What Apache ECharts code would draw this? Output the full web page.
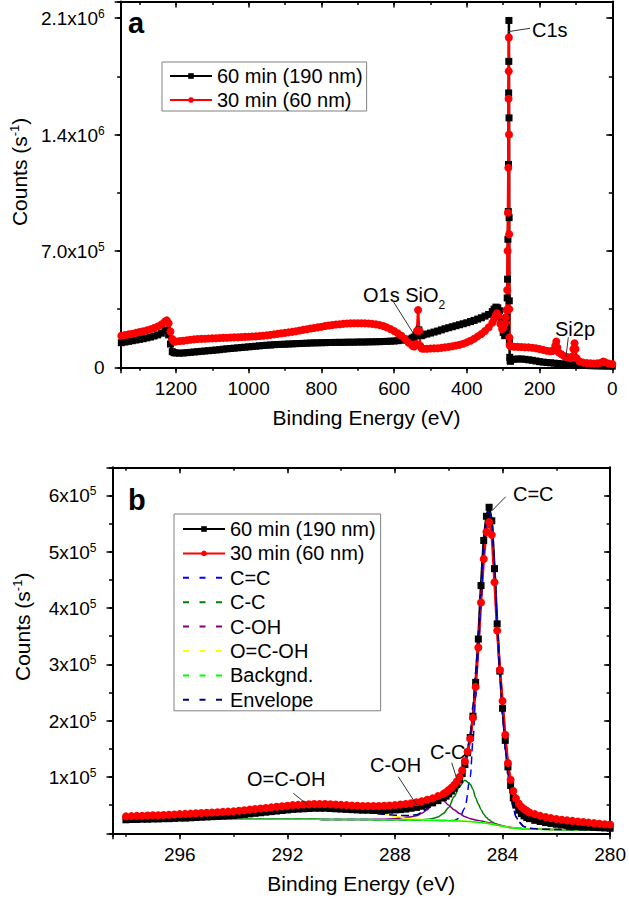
<!DOCTYPE html>
<html>
<head>
<meta charset="utf-8">
<title>XPS survey and C1s spectra</title>
<script src="https://cdn.jsdelivr.net/npm/echarts@6/dist/echarts.min.js"></script>
<style>
  html, body { margin: 0; padding: 0; background: #fff; }
  #chart { width: 629px; height: 902px; }
</style>
</head>
<body>
<div id="chart"></div>
<script>
// ===== panel a: survey scan, [binding energy (eV), counts in thousands] =====
const survey60 = [[1350,148],[1340,152],[1330,156],[1320,160],[1310,164],[1300,168],[1290,172],[1280,177],[1270,182],[1260,188],[1250,195],[1240,205],[1230,220],[1225,225],[1220,195],[1215,140],[1210,94],[1205,88],[1200,86],[1190,85],[1180,86],[1170,88],[1160,90],[1150,92],[1140,94],[1130,96],[1120,98],[1110,100],[1100,102],[1090,104],[1080,106],[1070,109],[1060,111],[1050,113],[1040,115],[1030,117],[1020,119],[1010,121],[1000,123],[990,125],[980,127],[970,129],[960,131],[950,133],[940,134],[930,136],[920,137],[910,138],[900,139],[890,140],[880,141],[870,142],[860,143],[850,144],[840,145],[830,146],[820,147],[810,147],[800,148],[790,148],[780,149],[770,149],[760,150],[750,150],[740,150],[730,151],[720,151],[710,151],[700,152],[690,152],[680,152],[670,153],[660,153],[650,154],[640,154],[630,155],[620,156],[610,157],[600,158],[590,160],[580,163],[570,166],[560,170],[550,176],[545,182],[540,195],[535,215],[532,225],[529,205],[525,190],[520,195],[510,200],[500,206],[490,212],[480,218],[470,225],[460,232],[450,238],[440,244],[430,250],[420,256],[410,262],[400,268],[390,275],[380,282],[370,290],[360,298],[350,308],[340,318],[330,335],[325,350],[320,362],[315,358],[310,340],[305,290],[300,210],[296,190],[293,200],[291,240],[290,300],[289,417],[288,530],[287,770],[286,937],[285.5,1220],[285,1650],[284.6,1840],[284.3,2086],[284,1500],[283.7,900],[283.3,400],[283,150],[282,60],[281,40],[280,36],[270,48],[260,50],[250,50],[240,48],[230,45],[220,42],[210,38],[200,34],[190,31],[180,29],[170,27],[160,25],[150,23],[140,21],[130,19],[120,17],[110,15],[100,14],[90,13],[80,12],[70,11],[60,10],[50,9],[40,9],[30,8],[20,8],[10,7],[0,7]];

const survey30 = [[1350,190],[1340,194],[1330,198],[1320,202],[1310,207],[1300,212],[1290,217],[1280,222],[1270,228],[1260,236],[1250,245],[1240,258],[1230,275],[1225,282],[1220,265],[1215,215],[1210,170],[1205,155],[1200,155],[1190,158],[1180,160],[1170,163],[1160,166],[1150,168],[1140,170],[1130,171],[1120,172],[1110,173],[1100,174],[1090,175],[1080,176],[1070,177],[1060,178],[1050,179],[1040,180],[1030,181],[1020,182],[1010,183],[1000,184],[990,185],[980,186],[970,188],[960,190],[950,192],[940,195],[930,198],[920,201],[910,204],[900,207],[890,210],[880,213],[870,217],[860,221],[850,225],[840,229],[830,233],[820,236],[810,240],[800,244],[790,248],[780,251],[770,254],[760,257],[750,259],[740,261],[730,263],[720,264],[710,265],[700,265],[690,265],[680,264],[670,263],[660,261],[650,258],[640,254],[630,248],[620,240],[610,230],[600,218],[590,205],[580,190],[570,170],[560,148],[550,130],[545,125],[540,140],[537,220],[534,345],[531,220],[528,130],[525,115],[520,112],[510,112],[500,113],[490,114],[480,115],[470,117],[460,120],[450,123],[440,127],[430,131],[420,136],[410,142],[400,150],[390,160],[380,172],[370,186],[360,200],[350,218],[340,240],[330,268],[325,290],[320,315],[317,325],[313,310],[308,260],[303,230],[300,235],[296,260],[293,300],[291,345],[289,465],[288,700],[287,930],[286,1200],[285.3,1615],[284.8,1780],[284.4,1984],[284,1400],[283.6,800],[283.2,350],[283,180],[282,135],[281,128],[280,126],[270,124],[260,123],[250,122],[240,121],[230,120],[220,118],[210,115],[200,110],[190,105],[180,100],[170,97],[165,98],[160,105],[157,130],[154,155],[151,120],[148,90],[140,78],[133,68],[125,62],[120,58],[115,55],[110,65],[107,110],[104,145],[101,110],[98,55],[90,35],[80,28],[70,25],[60,24],[50,23],[40,24],[30,28],[25,34],[20,30],[10,22],[0,20]];

// ===== panel b: C1s region, counts in thousands =====
const c1sE = [
  298.0, 297.8, 297.6, 297.4, 297.2, 297.0, 296.8, 296.6, 296.4, 296.2,
  296.0, 295.8, 295.6, 295.4, 295.2, 295.0, 294.8, 294.6, 294.4, 294.2,
  294.0, 293.8, 293.6, 293.4, 293.2, 293.0, 292.8, 292.6, 292.4, 292.2,
  292.0, 291.8, 291.6, 291.4, 291.2, 291.0, 290.8, 290.6, 290.4, 290.2,
  290.0, 289.8, 289.6, 289.4, 289.2, 289.0, 288.8, 288.6, 288.4, 288.2,
  288.0, 287.8, 287.6, 287.4, 287.2, 287.0, 286.8, 286.6, 286.4, 286.2,
  286.1, 286.0, 285.9, 285.8, 285.7, 285.6, 285.5, 285.4, 285.3, 285.2,
  285.1, 285.0, 284.9, 284.8, 284.7, 284.6, 284.5, 284.4, 284.3, 284.2,
  284.1, 284.0, 283.9, 283.8, 283.7, 283.6, 283.5, 283.4, 283.3, 283.2,
  283.1, 283.0, 282.8, 282.6, 282.4, 282.2, 282.0, 281.8, 281.6, 281.4,
  281.2, 281.0, 280.8, 280.6, 280.4, 280.2, 280.0
];
const c1s60 = [
  24, 24.5, 24.5, 25, 25, 25.5, 25.5, 26, 26, 26.5,
  27, 27, 27.5, 28, 28.5, 29, 29.5, 30, 30.5, 31,
  31.5, 32.5, 33.5, 34.5, 35.5, 36.5, 37.5, 38.5, 39.5, 40.5,
  41.5, 42.5, 43, 43.5, 44, 44.5, 44.5, 44.5, 44, 43.5,
  43, 42.5, 42, 41.5, 41, 41, 40.5, 40.5, 40.5, 41,
  41.5, 42, 43, 44.5, 46, 48, 51, 54, 58, 63,
  66, 70, 75, 80, 87, 95, 106, 122, 143, 170,
  208, 268, 345, 440, 520, 563, 579, 555, 470, 372,
  288, 222, 165, 118, 85, 63, 50, 41, 35, 31,
  28, 26, 23, 21, 19, 17.5, 16, 15, 14, 13,
  12, 11.5, 11, 10.5, 10, 9.5, 9
];
const c1s30 = [
  30, 30.5, 31, 31, 31.5, 32, 32, 32.5, 33, 33.5,
  34, 34.5, 35, 35.5, 36, 36.5, 37, 37.5, 38, 38.5,
  39, 40, 41, 42, 43, 44, 45, 46, 47, 48,
  49, 50, 50.5, 51, 51.5, 52, 52, 52, 51.5, 51,
  50.5, 50, 49.5, 49, 48.5, 48.5, 48.5, 48.5, 49, 49.5,
  50, 51, 52, 53.5, 55, 57, 59.5, 62, 66, 70,
  73, 77, 81, 86, 92, 100, 112, 128, 145, 168,
  205, 260, 330, 410, 487, 535, 553, 530, 446, 360,
  290, 235, 175, 125, 95, 75, 62, 53, 47, 43,
  40, 37, 34, 31, 29, 27, 25.5, 24, 23, 22,
  21, 20, 19, 18, 17, 16, 15.5
];

// peak fit, counts in thousands
const fitE = [
  298, 297, 296, 295, 294, 293, 292, 291.5, 291, 290.7,
  290.4, 290, 289.5, 289, 288.5, 288, 287.5, 287.2, 287, 286.8,
  286.6, 286.4, 286.2, 286, 285.8, 285.6, 285.4, 285.2, 285.1, 285,
  284.9, 284.8, 284.7, 284.6, 284.5, 284.4, 284.3, 284.2, 284.1, 284,
  283.9, 283.8, 283.7, 283.6, 283.5, 283.4, 283.2, 283, 282.5, 282,
  281, 280
];
const fitCeqC = [
  25, 25, 25, 25, 25, 25, 25, 24.8, 24.8, 24.7,
  24.6, 24.5, 24.4, 24.3, 24.1, 24, 23.7, 23.6, 23.5, 23.3,
  23.2, 23, 22.8, 22.6, 22.8, 27, 45, 100, 165, 240,
  320, 410, 495, 550, 575, 555, 475, 375, 285, 210,
  148, 103, 68, 44, 29, 20, 11.5, 8.5, 7.2, 6.8,
  6.2, 6
];
const fitCC = [
  25, 25, 25, 25, 25, 25, 25, 24.8, 24.8, 24.7,
  24.6, 24.5, 24.4, 24.3, 24.2, 24.2, 24, 24, 24.2, 24.8,
  26.5, 29, 35, 46, 65, 83, 94, 87, 78, 63,
  52, 42, 34, 28, 24, 20.5, 18, 16, 14.5, 13.3,
  12.2, 11.2, 10.4, 9.7, 9.2, 8.8, 8, 7.5, 7, 6.7,
  6.2, 6
];
const fitCOH = [
  25, 25, 25, 25, 25, 25, 25, 24.8, 24.8, 24.7,
  24.6, 24.5, 24.5, 24.6, 25, 26, 29, 31, 35.5, 42,
  52, 60.5, 58, 50, 42, 35, 29.5, 26, 24.8, 23.6,
  22.6, 21.7, 20.8, 19.8, 18.8, 17.8, 16.7, 15.5, 14.3, 13.2,
  12.2, 11.3, 10.5, 9.8, 9.2, 8.7, 8, 7.6, 7.1, 6.7,
  6.3, 6.1
];
const fitOCOH = [
  27, 27.5, 28.5, 30, 31.5, 35, 39.5, 42.5, 44.5, 45,
  45, 43.5, 41, 37.5, 34, 30.5, 26, 25, 24.5, 24,
  23.7, 23.4, 23.1, 22.8, 22.4, 22, 21.5, 21, 20.6, 20.2,
  19.7, 19.2, 18.7, 18, 17.2, 16.4, 15.5, 14.5, 13.5, 12.5,
  11.6, 10.8, 10.1, 9.5, 9, 8.6, 8, 7.6, 7.1, 6.8,
  6.4, 6.2
];
const fitBackground = [
  25, 25, 25, 25, 25, 25, 25, 24.8, 24.8, 24.7,
  24.6, 24.5, 24.4, 24.3, 24.1, 24, 23.7, 23.6, 23.5, 23.3,
  23.2, 23, 22.8, 22.5, 22.2, 21.8, 21.3, 20.8, 20.4, 20,
  19.5, 19, 18.5, 17.8, 17, 16.2, 15.3, 14.3, 13.3, 12.3,
  11.4, 10.6, 9.9, 9.3, 8.8, 8.4, 7.8, 7.4, 6.9, 6.6,
  6.2, 6
];
const fitEnvelope = [
  27, 27.5, 28.5, 30, 31.5, 35, 39.5, 42.5, 44.5, 45,
  45, 43.5, 41, 37.5, 34, 32, 31.6, 32.8, 37.2, 44.2,
  55.8, 66.9, 70.5, 73.9, 85.6, 101.6, 126, 171.6, 227, 287,
  356, 436, 513, 562, 584, 561, 479, 378, 287, 212,
  150, 104, 69, 45, 30, 21, 12, 9, 7.3, 6.9,
  6.3, 6.1
];

// ===== ticks and names =====
const surveyXTicks = [0, 200, 400, 600, 800, 1000, 1200];
const surveyYTicks = [0, 700000, 1400000, 2100000];
const surveyYLabels = [['0', ''], ['7.0x10', '5'], ['1.4x10', '6'], ['2.1x10', '6']];
const c1sXTicks = [280, 284, 288, 292, 296];
const c1sYTicks = [100000, 200000, 300000, 400000, 500000, 600000];
const c1sYLabels = [['1x10', '5'], ['2x10', '5'], ['3x10', '5'], ['4x10', '5'], ['5x10', '5'], ['6x10', '5']];
const runNames = ['60 min (190 nm)', '30 min (60 nm)'];
const fitNames = ['C=C', 'C-C', 'C-OH', 'O=C-OH', 'Backgnd.', 'Envelope'];

const FONT = '"Liberation Sans", Arial, Helvetica, sans-serif';

const toCounts = list => list.map(p => [p[0], p[1] * 1000]);
const onGrid = (E, vals) => E.map((e, i) => [e, vals[i] * 1000]);

// --- axes: each frame side is a major-tick axis plus a minor-tick axis ---
function plainAxis(extra) {
    return Object.assign({
        type: 'value',
        silent: true,
        splitLine: { show: false },
        axisLine: { show: false, onZero: false },
        axisLabel: { show: false },
        axisTick: { show: false },
        axisPointer: { show: false }
    }, extra);
}

function frameSide(gridIndex, position, min, max, major, minor, inverse, inside, main) {
    const tickStyle = { color: '#000', width: 1.5 };
    const majorAxis = plainAxis({
        gridIndex, position, min, max, interval: major, inverse,
        axisLine: { show: true, onZero: false, lineStyle: { color: '#000', width: 2 } },
        axisTick: { show: true, inside, length: 6, lineStyle: tickStyle }
    });
    if (main) Object.assign(majorAxis, main);
    const minorAxis = plainAxis({
        gridIndex, position, min, max, interval: minor, inverse,
        axisTick: { show: true, inside, length: 3.5, lineStyle: tickStyle }
    });
    return [majorAxis, minorAxis];
}

const tickRich = {
    m: { fontSize: 19, lineHeight: 20, verticalAlign: 'bottom', color: '#000', fontFamily: FONT },
    e: { fontSize: 12, lineHeight: 20, verticalAlign: 'top', color: '#000', fontFamily: FONT }
};

function yMain(ticks, labels, padLeft) {
    return {
        axisLabel: {
            show: true, margin: 16, rich: tickRich,
            formatter: v => {
                const i = ticks.indexOf(v);
                if (i < 0) return '';
                return '{m|' + labels[i][0] + '}' + (labels[i][1] ? '{e|' + labels[i][1] + '}' : '');
            }
        },
        name: '{t|Counts (s}{s|-1}{t|)}',
        nameLocation: 'middle',
        nameGap: 80,
        nameTextStyle: {
            fontSize: 21, color: '#000', fontFamily: FONT,
            padding: [0, 0, 0, padLeft],
            rich: {
                t: { fontSize: 21, lineHeight: 22, verticalAlign: 'bottom', color: '#000', fontFamily: FONT },
                s: { fontSize: 13, lineHeight: 22, verticalAlign: 'top', color: '#000', fontFamily: FONT }
            }
        }
    };
}

function xMain(ticks) {
    return {
        axisLabel: {
            show: true, margin: 12, fontSize: 19, color: '#000', fontFamily: FONT,
            formatter: v => ticks.indexOf(v) >= 0 ? String(v) : ''
        },
        name: 'Binding Energy (eV)',
        nameLocation: 'middle',
        nameGap: 40,
        nameTextStyle: { fontSize: 21, color: '#000', fontFamily: FONT }
    };
}

const xAxes = [].concat(
    frameSide(0, 'bottom', 0, 1352, 200, 100, true, false, xMain(surveyXTicks)),
    frameSide(0, 'top', 0, 1352, 200, 100, true, true),
    frameSide(1, 'bottom', 280, 298.5, 4, 2, true, false, xMain(c1sXTicks)),
    frameSide(1, 'top', 280, 298.5, 4, 2, true, true)
);
const yAxes = [].concat(
    frameSide(0, 'left', 0, 2200000, 700000, 350000, false, false, yMain(surveyYTicks, surveyYLabels, 25)),
    frameSide(0, 'right', 0, 2200000, 700000, 350000, false, true),
    frameSide(1, 'left', 0, 650000, 100000, 50000, false, false, yMain(c1sYTicks, c1sYLabels, 47)),
    frameSide(1, 'right', 0, 650000, 100000, 50000, false, true)
);

// --- series ---
function runSeries(name, data, panel, symbol, size, color) {
    return {
        type: 'line', name, data,
        xAxisIndex: panel * 4, yAxisIndex: panel * 4,
        symbol, symbolSize: size, showSymbol: true,
        lineStyle: { color, width: 2.5 },
        itemStyle: { color },
        emphasis: { disabled: true },
        animation: false
    };
}

function fitSeries(name, vals, color, dash) {
    return {
        type: 'line', name, data: onGrid(fitE, vals),
        xAxisIndex: 4, yAxisIndex: 4,
        symbol: 'none', showSymbol: false,
        smooth: 0.3, smoothMonotone: 'x',
        lineStyle: { color, width: 1.5, type: dash || 'solid' },
        itemStyle: { color },
        emphasis: { disabled: true },
        animation: false,
        z: 3
    };
}

const series = [
    runSeries(runNames[0], toCounts(survey60), 0, 'rect', 7, '#000000'),
    runSeries(runNames[1], toCounts(survey30), 0, 'circle', 8, '#ff0000'),
    runSeries(runNames[0], onGrid(c1sE, c1s60), 1, 'rect', 7, '#000000'),
    runSeries(runNames[1], onGrid(c1sE, c1s30), 1, 'circle', 8, '#ff0000'),
    fitSeries(fitNames[0], fitCeqC, '#0000ff', [8, 5]),
    fitSeries(fitNames[1], fitCC, '#008000'),
    fitSeries(fitNames[2], fitCOH, '#800080'),
    fitSeries(fitNames[3], fitOCOH, '#ffff00'),
    fitSeries(fitNames[4], fitBackground, '#00ff00'),
    fitSeries(fitNames[5], fitEnvelope, '#000080', [8, 4])
];

// --- legends ---
const legendBase = {
    orient: 'vertical',
    itemWidth: 42, itemHeight: 7, itemGap: 4.4,
    borderColor: '#808080', borderWidth: 1, borderRadius: 0,
    backgroundColor: '#fff',
    selectedMode: false,
    textStyle: { fontSize: 20, lineHeight: 20, color: '#000', fontFamily: FONT }
};
const legends = [
    Object.assign({}, legendBase, { left: 162, top: 62, padding: [4, 4, 1, 7], itemGap: 4, data: runNames }),
    Object.assign({}, legendBase, {
        left: 174, top: 514, padding: [5, 5, 1, 8],
        data: runNames.concat(fitNames.map(n => ({
            name: n,
            lineStyle: { type: [6, 10.5], width: 2 },
            itemStyle: { opacity: 0 }
        })))
    })
];

// --- annotations ---
function note(text, x, y, rich) {
    return {
        type: 'text', x, y, z: 50,
        style: {
            text, fill: '#000', font: '20px ' + FONT,
            textVerticalAlign: 'middle', verticalAlign: 'middle', rich
        }
    };
}
function leader(x1, y1, x2, y2) {
    return { type: 'line', z: 50, shape: { x1, y1, x2, y2 }, style: { stroke: '#333', lineWidth: 1 } };
}
function panelLabel(text, x, y) {
    return {
        type: 'text', x, y, z: 50,
        style: { text, fill: '#000', font: 'bold 29px ' + FONT, textVerticalAlign: 'middle', verticalAlign: 'middle' }
    };
}
const subRich = {
    t: { fontSize: 20, lineHeight: 26, verticalAlign: 'top', fontFamily: FONT, fill: '#000', color: '#000' },
    b: { fontSize: 12, lineHeight: 26, verticalAlign: 'bottom', fontFamily: FONT, fill: '#000', color: '#000' }
};

const graphics = [
    panelLabel('a', 128, 23),
    panelLabel('b', 128, 500),
    note('C1s', 532, 30), leader(508, 31.7, 530, 28.3),
    note('{t|O1s SiO}{b|2}', 363, 298, subRich), leader(391.7, 299, 413.3, 333.3),
    note('Si2p', 555, 329), leader(568.3, 337.3, 566, 356.7),
    note('C=C', 513, 494), leader(492.7, 510, 505.7, 496.7),
    note('C-C', 430, 752), leader(451.7, 762.7, 456.7, 778.3),
    note('C-OH', 370, 765), leader(398.3, 776.7, 416.7, 805),
    note('O=C-OH', 247, 779), leader(293.3, 793.3, 310, 806.7)
];

const chart = echarts.init(document.getElementById('chart'), null, { renderer: 'svg' });
chart.setOption({
    animation: false,
    backgroundColor: '#fff',
    textStyle: { fontFamily: FONT, color: '#000' },
    grid: [
        { left: 112.5, top: 1.5, width: 499.8, height: 365.8 },
        { left: 112.5, top: 467.3, width: 499.8, height: 366 }
    ],
    xAxis: xAxes,
    yAxis: yAxes,
    legend: legends,
    series,
    graphic: { elements: graphics }
});
</script>
</body>
</html>
